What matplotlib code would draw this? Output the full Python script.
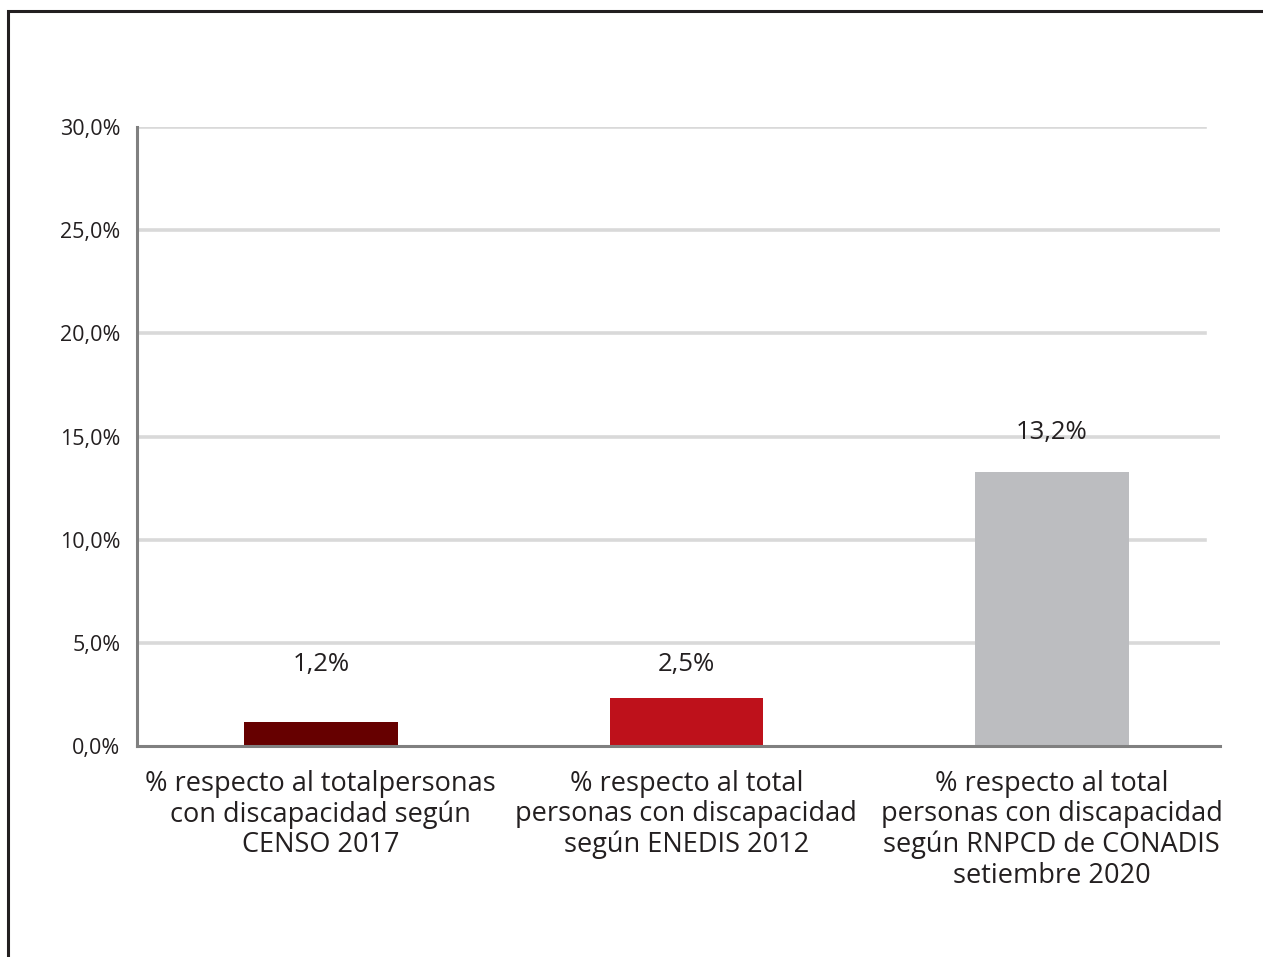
import matplotlib.pyplot as plt
from matplotlib.patches import Rectangle

categories = [
    "% respecto al totalpersonas\ncon discapacidad según\nCENSO 2017",
    "% respecto al total\npersonas con discapacidad\nsegún ENEDIS 2012",
    "% respecto al total\npersonas con discapacidad\nsegún RNPCD de CONADIS\nsetiembre 2020",
]
values = [1.17, 2.35, 13.3]
value_labels = ["1,2%", "2,5%", "13,2%"]
colors = ["#660000", "#BE111B", "#BCBDC0"]
yticks = [0, 5, 10, 15, 20, 25, 30]

plt.rcParams['font.family'] = ['Open Sans', 'DejaVu Sans']
txt = "#231F20"

fig = plt.figure(figsize=(12.63, 9.57), dpi=100)
ax = fig.add_axes([137 / 1263, 1 - 746 / 957, 1083 / 1263, 619 / 957])

# frame around the whole figure (bottom and right run off the picture)
fig.patches.append(Rectangle((8 / 1263, -0.05), 1.2, 1 - 11 / 957 + 0.05,
                             transform=fig.transFigure, fill=False,
                             edgecolor="#231F20", lw=2.2, zorder=0))

# grid lines (some stop a bit earlier, as in the original)
for i, t in enumerate(yticks[1:]):
    xmax = 1.0 if i % 2 == 0 else (1205 - 137) / 1083
    ax.axhline(t, xmin=0, xmax=xmax, color="#D9D9D9", lw=2.6, zorder=0)

x = range(len(categories))
ax.bar(x, values, width=0.42, color=colors, zorder=2)

label_offsets = [2.8, 1.6, 1.9]
for xi, v, lab, off in zip(x, values, value_labels, label_offsets):
    ax.text(xi, v + off, lab, ha="center", va="center", fontsize=18.5, color=txt)

ax.set_xlim(-0.503, 2.46)
ax.set_ylim(0, 30)
ax.set_yticks(yticks)
ax.set_yticklabels([f"{t:.1f}%".replace(".", ",") for t in yticks])
ax.set_xticks(list(x))
ax.set_xticklabels(categories, linespacing=1.12)
ax.tick_params(axis="y", length=0, pad=12, labelsize=15.5, labelcolor=txt)
ax.tick_params(axis="x", length=0, pad=17, labelsize=19.5, labelcolor=txt)

for s in ["top", "right"]:
    ax.spines[s].set_visible(False)
for s in ["left", "bottom"]:
    ax.spines[s].set_color("#808080")
    ax.spines[s].set_linewidth(2.2)

fig.savefig("out.png", dpi=100)
